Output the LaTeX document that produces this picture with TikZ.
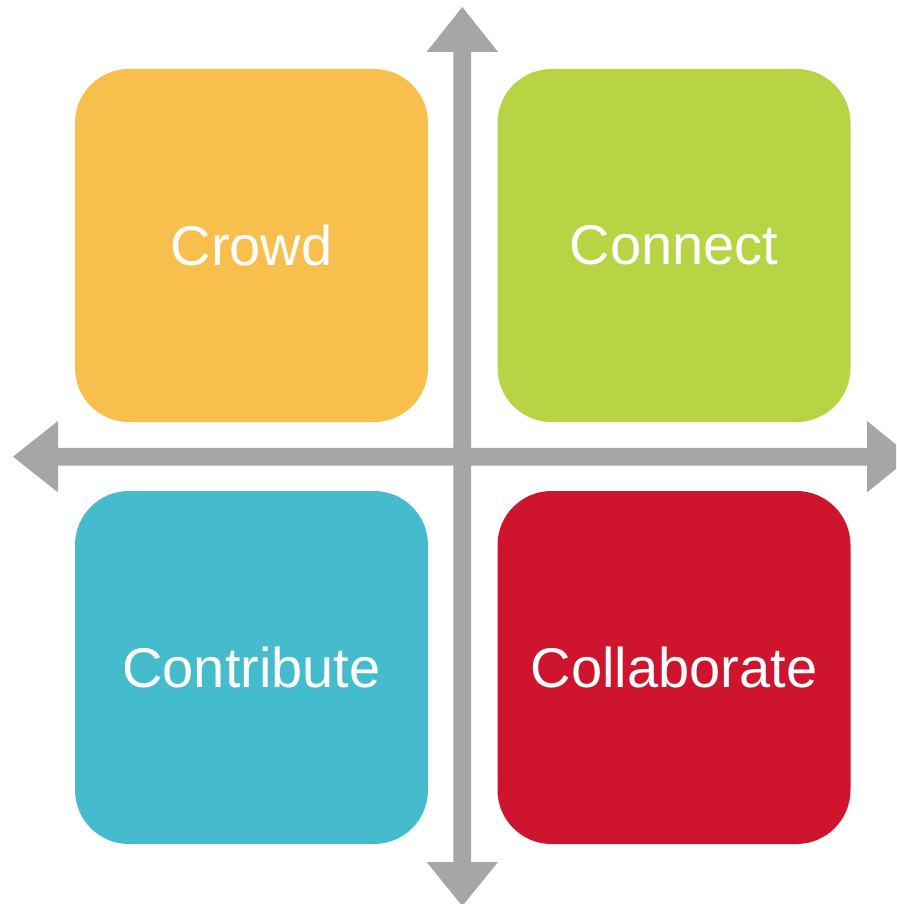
\documentclass[tikz,border=0pt]{standalone}
\usepackage{fontspec}
\setmainfont{Liberation Sans}
\definecolor{crowdc}{HTML}{F8BF4D}
\definecolor{connectc}{HTML}{B8D343}
\definecolor{contribc}{HTML}{45BCCD}
\definecolor{collabc}{HTML}{CF152D}
\definecolor{axisc}{HTML}{A6A6A6}
\tikzset{
  quad/.style={minimum width=353pt, minimum height=353pt, inner sep=0pt,
    rounded corners=54pt, text=white, font=\fontsize{56}{60}\selectfont},
  axis/.style={fill=axisc, draw=none}
}
\begin{document}
\begin{tikzpicture}[x=1pt,y=-1pt]
\useasboundingbox (0,0) rectangle (896,904);
\clip (0,0) rectangle (896,904);
% quadrants
\node[quad, fill=crowdc] (crowd) at (251.5,245.5) {Crowd};
\node[quad, fill=connectc] (connect) at (674,245.5) {Connect};
\node[quad, fill=contribc] (contrib) at (251.5,667.5) {Contribute};
\node[quad, fill=collabc] (collab) at (674,667.5) {Collaborate};
% vertical axis
\fill[axis] (462.3,7) -- (498,52) -- (471.2,52) -- (471.2,862) -- (498,862)
  -- (462.3,906) -- (426.6,862) -- (453.4,862) -- (453.4,52) -- (426.6,52) -- cycle;
% horizontal axis
\fill[axis] (13,456.7) -- (58,421) -- (58,447.8) -- (867,447.8) -- (867,421)
  -- (911,456.7) -- (867,492.4) -- (867,465.6) -- (58,465.6) -- (58,492.4) -- cycle;
\end{tikzpicture}
\end{document}
